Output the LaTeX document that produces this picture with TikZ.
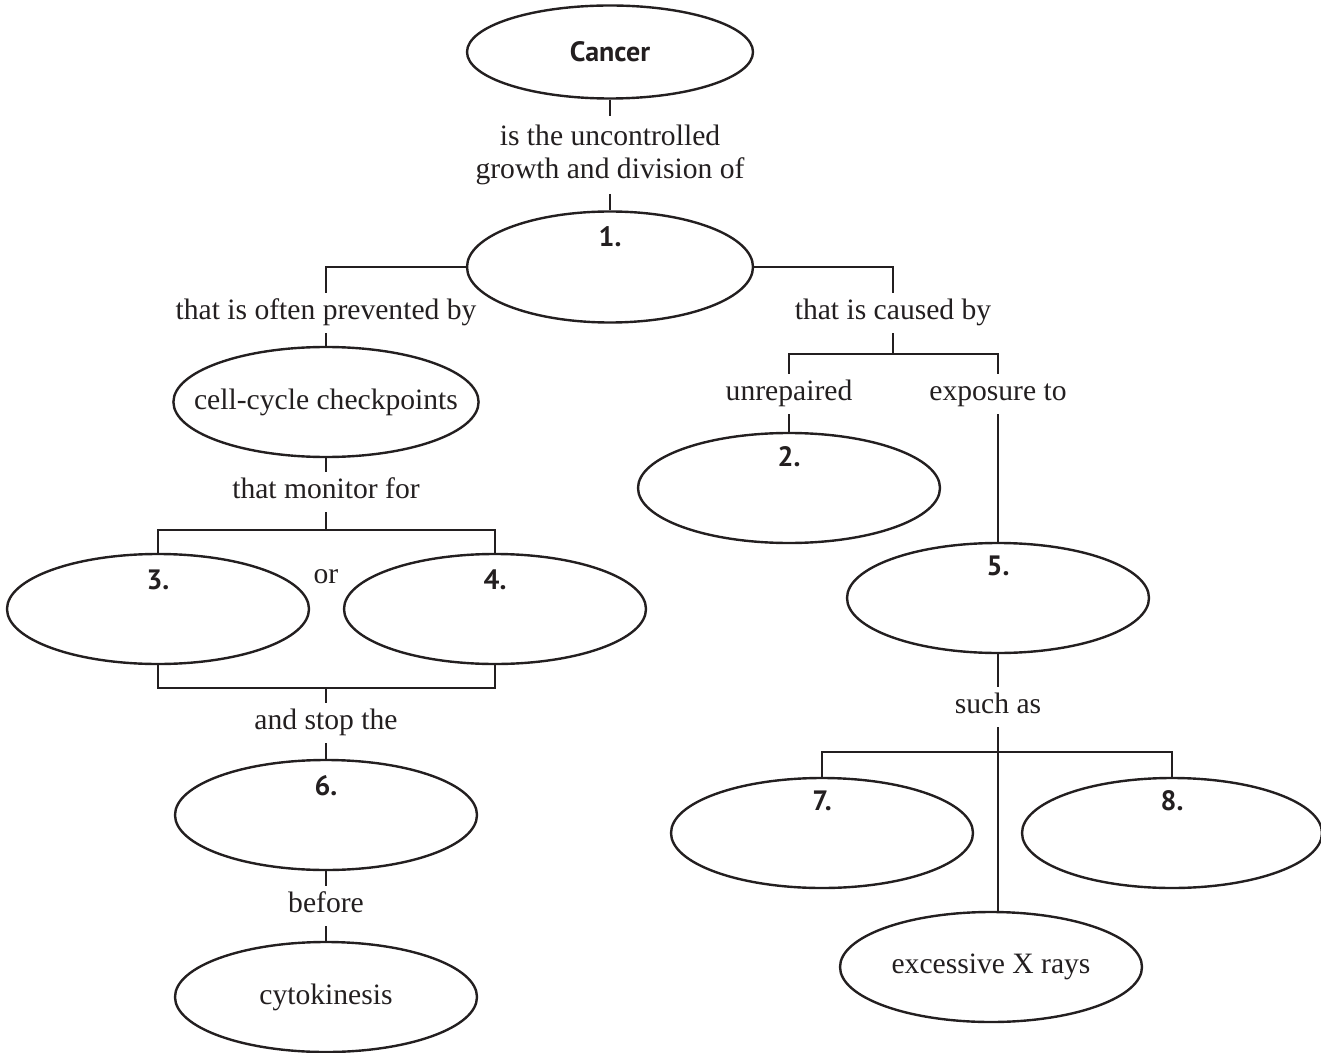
\documentclass[tikz,border=0pt]{standalone}
\usepackage{fontspec}
\setmainfont{Liberation Serif}
\newfontfamily\lblfont{PT Sans}
\usetikzlibrary{shapes.geometric}
\definecolor{ink}{HTML}{231F20}
\begin{document}
\begin{tikzpicture}[x=0.5pt,y=-0.5pt,
  oval/.style={draw=ink, line width=1.2pt, ellipse, inner sep=0pt,
    minimum width=151pt, minimum height=55pt, text=ink,
    font=\fontsize{14.8}{16.5}\selectfont},
  phrase/.style={inner xsep=2pt, inner ysep=3.25pt, text height=10pt,
    text depth=3.5pt, text=ink, font=\fontsize{14.8}{16.5}\selectfont},
  num/.style={font=\lblfont\bfseries\fontsize{14}{16}\selectfont,
    text=ink, inner sep=0pt},
  link/.style={draw=ink, line width=1.2pt},
]
\useasboundingbox (0,0) rectangle (1321,1053);

% ---- top
\node[oval, minimum width=143pt, minimum height=46.5pt, font=\lblfont\bfseries\fontsize{14}{16}\selectfont] (cancer) at (610,52) {Cancer};
\node[text=ink, align=center, inner xsep=2pt, inner ysep=4.2pt,
  font=\fontsize{14.8}{16.5}\selectfont] (t1) at (610,155)
  {is the uncontrolled\\growth and division of};
\node[oval, minimum width=143pt, minimum height=55.5pt] (e1) at (610,267) {};
\node[num] (n1) at ([yshift=-13pt]e1.north) {1.};

% ---- left branch
\node[phrase] (t2) at (326,313) {that is often prevented by};
\node[oval, inner xsep=-12pt] (cc) at (326,402) {cell-cycle checkpoints};
\node[phrase] (t3) at (326,492) {that monitor for};
\coordinate (b1) at (326,530);
\node[oval] (e3) at (158,609) {};
\node[num] (n3) at ([yshift=-13.5pt]e3.north) {3.};
\node[oval] (e4) at (495,609) {};
\node[num] (n4) at ([yshift=-13.5pt]e4.north) {4.};
\node[phrase] (tor) at (326,577) {or};
\coordinate (b2) at (326,688);
\node[phrase] (t4) at (326,723) {and stop the};
\node[oval] (e6) at (326,815) {};
\node[num] (n6) at ([yshift=-13.5pt]e6.north) {6.};
\node[phrase] (t5) at (326,906) {before};
\node[oval] (cyto) at (326,997) {cytokinesis};

% ---- right branch
\node[phrase] (t6) at (893,313) {that is caused by};
\coordinate (b3) at (893,354);
\node[phrase] (t7) at (789,394) {unrepaired};
\node[phrase] (t8) at (998,394) {exposure to};
\node[oval] (e2) at (789,488) {};
\node[num] (n2) at ([yshift=-12.5pt]e2.north) {2.};
\node[oval] (e5) at (998,598) {};
\node[num] (n5) at ([yshift=-12pt]e5.north) {5.};
\node[phrase] (t9) at (998,707) {such as};
\coordinate (b4) at (998,752);
\node[oval] (e7) at (822,833) {};
\node[num] (n7) at ([yshift=-12pt]e7.north) {7.};
\node[oval, minimum width=150pt] (e8) at (1172,833) {};
\node[num] (n8) at ([yshift=-12pt]e8.north) {8.};
\node[oval] (xr) at (991,967) {excessive X rays};

% ---- connectors
\draw[link] (cancer.south) -- (t1.north);
\draw[link] (t1.south) -- (e1.north);
\draw[link] (e1.west) -| (t2.north);
\draw[link] (t2.south) -- (cc.north);
\draw[link] (cc.south) -- (t3.north);
\draw[link] (t3.south) -- (b1);
\draw[link] (e3.north) |- (b1) -| (e4.north);
\draw[link] (e3.south) |- (b2) -| (e4.south);
\draw[link] (b2) -- (t4.north);
\draw[link] (t4.south) -- (e6.north);
\draw[link] (e6.south) -- (t5.north);
\draw[link] (t5.south) -- (cyto.north);

\draw[link] (e1.east) -| (t6.north);
\draw[link] (t6.south) -- (b3);
\draw[link] (t7.north) |- (b3) -| (t8.north);
\draw[link] (t7.south) -- (e2.north);
\draw[link] (t8.south) -- (e5.north);
\draw[link] (e5.south) -- (t9.north);
\draw[link] (t9.south) -- (b4);
\draw[link] (e7.north) |- (b4) -| (e8.north);
\draw[link] (b4) -- (b4 |- xr.north);
\end{tikzpicture}
\end{document}
